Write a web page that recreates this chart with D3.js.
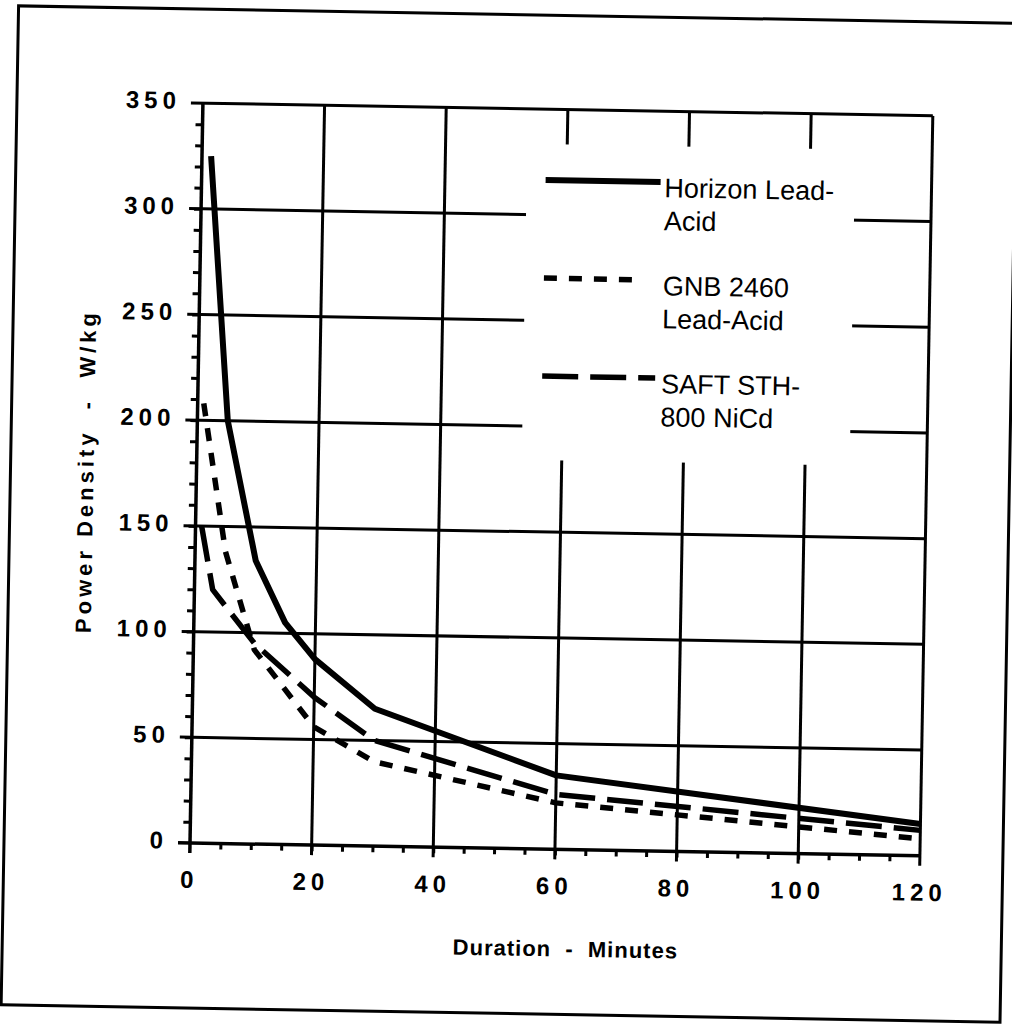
<!DOCTYPE html>
<html>
<head>
<meta charset="utf-8">
<script src="https://cdn.jsdelivr.net/npm/d3@7"></script>
<style>
  body { margin: 0; background: #fff; }
  svg { display: block; }
  text { font-family: "Liberation Sans", Arial, Helvetica, sans-serif; fill: #000; }
</style>
</head>
<body>
<svg id="chart"></svg>
<script>
// values
var minutes_horizon = [1.5, 5, 10, 15, 20, 30, 60, 120];
var power_horizon   = [325, 200, 134, 105, 88, 65, 35, 15];
var minutes_gnb = [1, 5, 10, 20, 30, 60, 120];
var power_gnb   = [208, 138, 92, 56, 40, 22, 8];
var minutes_saft = [1, 3, 10, 20, 30, 60, 120];
var power_saft   = [150, 120, 95, 70, 50, 26, 12];
var legend_lines = [["Horizon Lead-", "Acid"], ["GNB 2460", "Lead-Acid"], ["SAFT STH-", "800 NiCd"]];
var x_ticks = [0, 20, 40, 60, 80, 100, 120];
var y_ticks = [0, 50, 100, 150, 200, 250, 300, 350];

var W = 1012, H = 1028;
var left = 190, bottom = 843, width = 730, height = 740;

var svg = d3.select("#chart").attr("width", W).attr("height", H);
// the scan is tilted by about one degree
var g = svg.append("g").attr("transform", "rotate(1," + left + "," + bottom + ")");

var x = d3.scaleLinear().domain([0, 120]).range([left, left + width]);
var y = d3.scaleLinear().domain([0, 350]).range([bottom, bottom - height]);

// outer frame
g.append("rect")
  .attr("x", 4).attr("y", 9).attr("width", 999).attr("height", 999)
  .attr("fill", "none").attr("stroke", "#000").attr("stroke-width", 3);

// grid
g.selectAll(".hgrid").data(y_ticks).enter().append("line")
  .attr("x1", x(0) - 12).attr("x2", x(120))
  .attr("y1", function (d) { return y(d); }).attr("y2", function (d) { return y(d); })
  .attr("stroke", "#000").attr("stroke-width", function (d) { return d == 0 ? 3.5 : 3; });

g.selectAll(".vgrid").data(x_ticks).enter().append("line")
  .attr("x1", function (d) { return x(d); }).attr("x2", function (d) { return x(d); })
  .attr("y1", y(350)).attr("y2", y(0) + 10)
  .attr("stroke", "#000").attr("stroke-width", function (d) { return d == 0 ? 3.5 : 3; });

// blank area behind the legend
g.append("rect")
  .attr("x", 515).attr("y", 138).attr("width", 328).attr("height", 316)
  .attr("fill", "#fff");

// minor ticks
g.append("g")
  .attr("transform", "translate(" + x(0) + ",0)")
  .call(d3.axisLeft(y).tickValues(d3.range(10, 350, 10)).tickSize(7).tickFormat("").tickSizeOuter(0))
  .call(function (a) { a.select(".domain").remove(); a.selectAll("line").attr("stroke-width", 3); });

g.append("g")
  .attr("transform", "translate(0," + y(0) + ")")
  .call(d3.axisBottom(x).tickValues(d3.range(5, 120, 5)).tickSize(6).tickFormat("").tickSizeOuter(0))
  .call(function (a) { a.select(".domain").remove(); a.selectAll("line").attr("stroke-width", 3); });

// tick labels
g.selectAll(".ylab").data(y_ticks).enter().append("text")
  .attr("x", x(0) - 22).attr("y", function (d) { return y(d) + 6; })
  .attr("text-anchor", "end")
  .style("font-size", "24px").style("font-weight", "bold").style("letter-spacing", "5px")
  .text(function (d) { return d; });

g.selectAll(".xlab").data(x_ticks).enter().append("text")
  .attr("x", function (d) { return x(d); }).attr("y", y(0) + 45)
  .attr("text-anchor", "middle")
  .style("font-size", "24px").style("font-weight", "bold").style("letter-spacing", "5px")
  .text(function (d) { return d; });

// axis titles
g.append("text")
  .attr("x", x(62)).attr("y", 950)
  .attr("text-anchor", "middle")
  .style("font-size", "22px").style("font-weight", "bold").style("letter-spacing", "1px")
  .style("white-space", "pre")
  .text("Duration  -  Minutes");

g.append("text")
  .attr("transform", "translate(87," + ((y(0) + y(350)) / 2) + ") rotate(-90)")
  .attr("text-anchor", "middle")
  .style("font-size", "22px").style("font-weight", "bold").style("letter-spacing", "4px")
  .style("white-space", "pre")
  .text("Power Density  -  W/kg");

// curves
var line = d3.line()
  .x(function (d) { return x(d[0]); })
  .y(function (d) { return y(d[1]); });

var series = [
  { m: minutes_horizon, p: power_horizon, dash: null, w: 6 },
  { m: minutes_gnb, p: power_gnb, dash: "13,12", w: 5.5 },
  { m: minutes_saft, p: power_saft, dash: "36,12", w: 5.5 }
];

series.forEach(function (s) {
  var pts = s.m.map(function (d, i) { return [d, s.p[i]]; });
  g.append("path")
    .attr("d", line(pts))
    .attr("fill", "none").attr("stroke", "#000")
    .attr("stroke-width", s.w)
    .attr("stroke-linejoin", "round")
    .attr("stroke-dasharray", s.dash);
});

// legend
var legY = [174, 272, 370];
var legX2 = [649, 629, 647];
legend_lines.forEach(function (names, i) {
  var s = series[i];
  g.append("line")
    .attr("x1", 534).attr("x2", legX2[i])
    .attr("y1", legY[i]).attr("y2", legY[i])
    .attr("stroke", "#000").attr("stroke-width", s.w)
    .attr("stroke-dasharray", s.dash);
  names.forEach(function (t, j) {
    g.append("text")
      .attr("x", 653).attr("y", legY[i] + 15 + j * 33)
      .style("font-size", "27px")
      .text(t);
  });
});
</script>
</body>
</html>
